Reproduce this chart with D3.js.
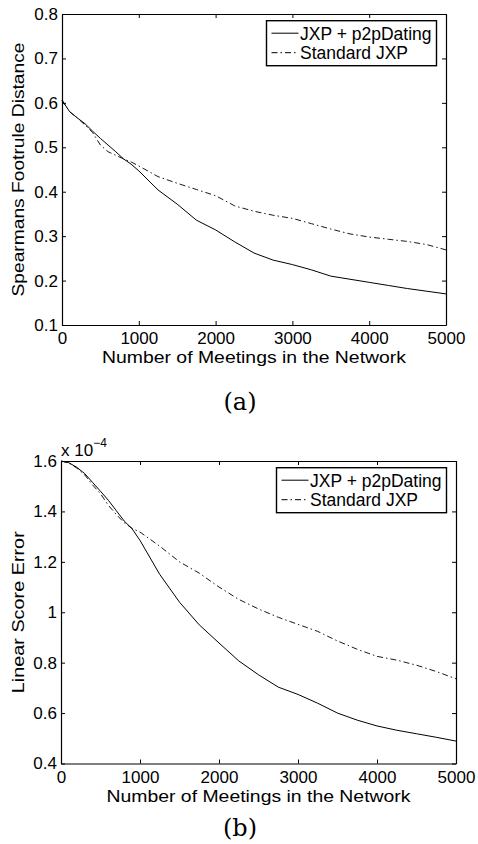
<!DOCTYPE html>
<html>
<head>
<meta charset="utf-8">
<script src="https://cdn.jsdelivr.net/npm/d3@7"></script>
<style>
  body { margin: 0; background: #fff; }
  svg text { font-family: "Liberation Sans", Arial, sans-serif; fill: #000; }
</style>
</head>
<body>
<svg id="chart"></svg>
<script>
// x values (number of meetings) shared by all curves
let meetings = [0, 100, 200, 300, 400, 500, 600, 700, 800, 900, 1000, 1250, 1500, 1750, 2000,
  2250, 2500, 2750, 3000, 3250, 3500, 3750, 4000, 4250, 4500, 4750, 5000];

// panel (a): Spearmans footrule distance
let footruleDating = [0.606, 0.580, 0.566, 0.553, 0.536, 0.520, 0.505, 0.490, 0.474, 0.462, 0.447,
  0.404, 0.372, 0.336, 0.314, 0.287, 0.262, 0.246, 0.236, 0.224, 0.210, 0.203, 0.196, 0.189, 0.182, 0.176, 0.170];
let footruleStandard = [0.606, 0.580, 0.566, 0.550, 0.533, 0.505, 0.490, 0.482, 0.474, 0.467, 0.458,
  0.434, 0.419, 0.405, 0.391, 0.368, 0.356, 0.347, 0.340, 0.328, 0.316, 0.305, 0.298, 0.293, 0.288, 0.281, 0.269];

// panel (b): linear score error (x 10^-4)
let scoreDating = [1.600, 1.593, 1.575, 1.550, 1.515, 1.480, 1.444, 1.403, 1.362, 1.331, 1.285,
  1.150, 1.040, 0.950, 0.878, 0.807, 0.752, 0.703, 0.674, 0.639, 0.600, 0.572, 0.549, 0.532, 0.518, 0.504, 0.489];
let scoreStandard = [1.600, 1.592, 1.572, 1.545, 1.505, 1.470, 1.424, 1.388, 1.355, 1.333, 1.318,
  1.262, 1.200, 1.155, 1.100, 1.051, 1.013, 0.980, 0.952, 0.924, 0.886, 0.853, 0.825, 0.810, 0.790, 0.765, 0.736];

let xTicks = [0, 1000, 2000, 3000, 4000, 5000];
let footruleTicks = [0.1, 0.2, 0.3, 0.4, 0.5, 0.6, 0.7, 0.8];
let scoreTicks = [0.4, 0.6, 0.8, 1.0, 1.2, 1.4, 1.6];
let seriesNames = ["JXP + p2pDating", "Standard JXP"];

let width = 478;
let height = 844;
let svg = d3.select("#chart").attr("width", width).attr("height", height);

let fontSize = 17;
let dashDot = "6,3,1.5,3";

let drawPanel = (p) => {
  let xScale = d3.scaleLinear().domain([0, 5000]).range([p.left, p.right]);
  let yScale = d3.scaleLinear().domain(p.yDomain).range([p.bottom, p.top]);
  let g = svg.append("g");

  // axes: ticks point inward on all four sides
  let xAxis = d3.axisBottom(xScale).tickValues(xTicks).tickFormat(d3.format("d"))
    .tickSizeInner(-4).tickSizeOuter(0).tickPadding(p.xPad);
  g.append("g").attr("transform", "translate(0," + p.bottom + ")").call(xAxis);
  let yAxis = d3.axisLeft(yScale).tickValues(p.yTicks).tickFormat((d) => p.yFormat(d))
    .tickSizeInner(-4).tickSizeOuter(0).tickPadding(4);
  g.append("g").attr("transform", "translate(" + p.left + ",0)").call(yAxis);
  g.append("g").attr("transform", "translate(0," + p.top + ")")
    .call(d3.axisTop(xScale).tickValues(xTicks).tickFormat("").tickSizeInner(-4).tickSizeOuter(0));
  g.append("g").attr("transform", "translate(" + p.right + ",0)")
    .call(d3.axisRight(yScale).tickValues(p.yTicks).tickFormat("").tickSizeInner(-4).tickSizeOuter(0));
  g.selectAll(".tick line").attr("stroke", "#000");
  g.selectAll(".domain").attr("stroke", "#000").attr("stroke-width", 1.2);
  g.selectAll(".tick text").attr("font-size", fontSize).attr("font-family", "Liberation Sans, Arial, sans-serif");

  // curves
  let line = d3.line().x((d, i) => xScale(meetings[i])).y((d) => yScale(d));
  g.append("path").datum(p.standard).attr("d", line).attr("fill", "none")
    .attr("stroke", "#000").attr("stroke-width", 0.9).attr("stroke-dasharray", dashDot);
  g.append("path").datum(p.dating).attr("d", line).attr("fill", "none")
    .attr("stroke", "#000").attr("stroke-width", 1);

  // legend
  let lw = 170, lh = 45;
  let lx = p.right - 9.5 - lw, ly = p.top + 6.7;
  let lg = g.append("g").attr("transform", "translate(" + lx + "," + ly + ")");
  lg.append("rect").attr("width", lw).attr("height", lh).attr("fill", "#fff")
    .attr("stroke", "#000").attr("stroke-width", 1.4);
  seriesNames.forEach((name, i) => {
    let yy = 12.5 + i * 19.5;
    lg.append("line").attr("x1", 5).attr("x2", 32).attr("y1", yy).attr("y2", yy)
      .attr("stroke", "#000").attr("stroke-width", 1)
      .attr("stroke-dasharray", i === 1 ? dashDot : null);
    lg.append("text").attr("x", 33.5).attr("y", yy + 6.5).attr("font-size", 17.5).text(name);
  });

  // axis titles (the original face is a little wider than Liberation Sans)
  g.append("text").attr("text-anchor", "middle").attr("font-size", fontSize)
    .attr("textLength", 304).attr("lengthAdjust", "spacingAndGlyphs")
    .attr("x", (p.left + p.right) / 2).attr("y", p.xTitleY).text("Number of Meetings in the Network");
  g.append("text").attr("text-anchor", "middle").attr("font-size", fontSize)
    .attr("textLength", p.yTitleLen).attr("lengthAdjust", "spacingAndGlyphs")
    .attr("transform", "translate(24," + (p.top + p.bottom) / 2 + ") rotate(-90)").text(p.yTitle);

  // caption
  g.append("text").attr("text-anchor", "middle").attr("font-size", 24)
    .style("font-family", "'DejaVu Serif', 'Liberation Serif', serif")
    .attr("x", 240).attr("y", p.captionY).text(p.caption);
  return g;
};

drawPanel({
  left: 62, right: 446, top: 14, bottom: 325,
  yDomain: [0.1, 0.8], yTicks: footruleTicks, yFormat: d3.format(".1f"),
  dating: footruleDating, standard: footruleStandard,
  xPad: 7, xTitleY: 363, yTitle: "Spearmans Footrule Distance", yTitleLen: 254,
  caption: "(a)", captionY: 410
});

let gb = drawPanel({
  left: 61, right: 456, top: 461, bottom: 763.5,
  yDomain: [0.4, 1.6], yTicks: scoreTicks, yFormat: (d) => d3.format("~g")(d),
  dating: scoreDating, standard: scoreStandard,
  xPad: 7.5, xTitleY: 802, yTitle: "Linear Score Error", yTitleLen: 162,
  caption: "(b)", captionY: 836
});

// exponent multiplier above panel (b)
let expText = gb.append("text").attr("x", 61).attr("y", 456).attr("font-size", fontSize);
expText.append("tspan").text("x 10");
expText.append("tspan").attr("dy", -9).attr("font-size", 12).text("\u22124");
</script>
</body>
</html>
